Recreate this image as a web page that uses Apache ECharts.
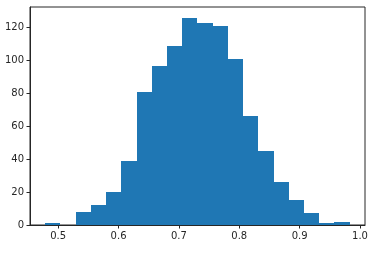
<!DOCTYPE html>
<html><head><meta charset="utf-8">
<script src="https://cdn.jsdelivr.net/npm/echarts@6/dist/echarts.min.js"></script>
<style>html,body{margin:0;padding:0;background:#fff}#c{width:387px;height:254px}</style>
</head><body><div id="c"></div>
<script>
const binEdges = [0.4785, 0.5037, 0.5289, 0.5542, 0.5794, 0.6046, 0.6298, 0.6550, 0.6803, 0.7055, 0.7307, 0.7559, 0.7811, 0.8064, 0.8316, 0.8568, 0.8820, 0.9072, 0.9325, 0.9577, 0.9829];
const counts = [1, 0, 8, 12, 20, 39, 81, 97, 109, 126, 123, 121, 101, 66, 45, 26, 15, 7, 1, 2];
const xTicks = [0.5, 0.6, 0.7, 0.8, 0.9, 1.0];
const yTicks = [0, 20, 40, 60, 80, 100, 120];

const data = counts.map((c, i) => [binEdges[i], binEdges[i + 1], c]);
const chart = echarts.init(document.getElementById('c'), null, {renderer: 'canvas'});
const axisText = {color: '#262626', fontSize: 10, fontFamily: 'DejaVu Sans'};
chart.setOption({
  animation: false,
  grid: {left: 30, right: 22, top: 7, bottom: 29, show: true, borderColor: '#262626', borderWidth: 1, backgroundColor: 'transparent'},
  xAxis: {
    type: 'value', min: 0.4533, max: 1.0083,
    axisLine: {show: true, onZero: false, lineStyle: {color: '#262626', width: 1}},
    axisTick: {show: true, length: 3.5, customValues: xTicks, lineStyle: {color: '#262626'}},
    axisLabel: Object.assign({customValues: xTicks, margin: 6.5, formatter: v => v.toFixed(1)}, axisText),
    splitLine: {show: false}
  },
  yAxis: {
    type: 'value', min: 0, max: 132.6,
    axisLine: {show: true, lineStyle: {color: '#262626', width: 1}},
    axisTick: {show: true, length: 3.5, customValues: yTicks, lineStyle: {color: '#262626'}},
    axisLabel: Object.assign({customValues: yTicks, margin: 6}, axisText),
    splitLine: {show: false}
  },
  series: [{
    type: 'custom',
    data: data,
    encode: {x: [0, 1], y: 2},
    renderItem: function (params, api) {
      const h = api.value(2);
      if (!h) return null;
      const p0 = api.coord([api.value(0), h]);
      const p1 = api.coord([api.value(1), 0]);
      const x0 = Math.round(p0[0]), x1 = Math.round(p1[0]);
      const y0 = Math.round(p0[1]), y1 = Math.round(p1[1]);
      return {type: 'rect', shape: {x: x0, y: y0, width: x1 - x0, height: y1 - y0}, style: {fill: '#1f77b4'}};
    }
  }]
});
</script></body></html>
